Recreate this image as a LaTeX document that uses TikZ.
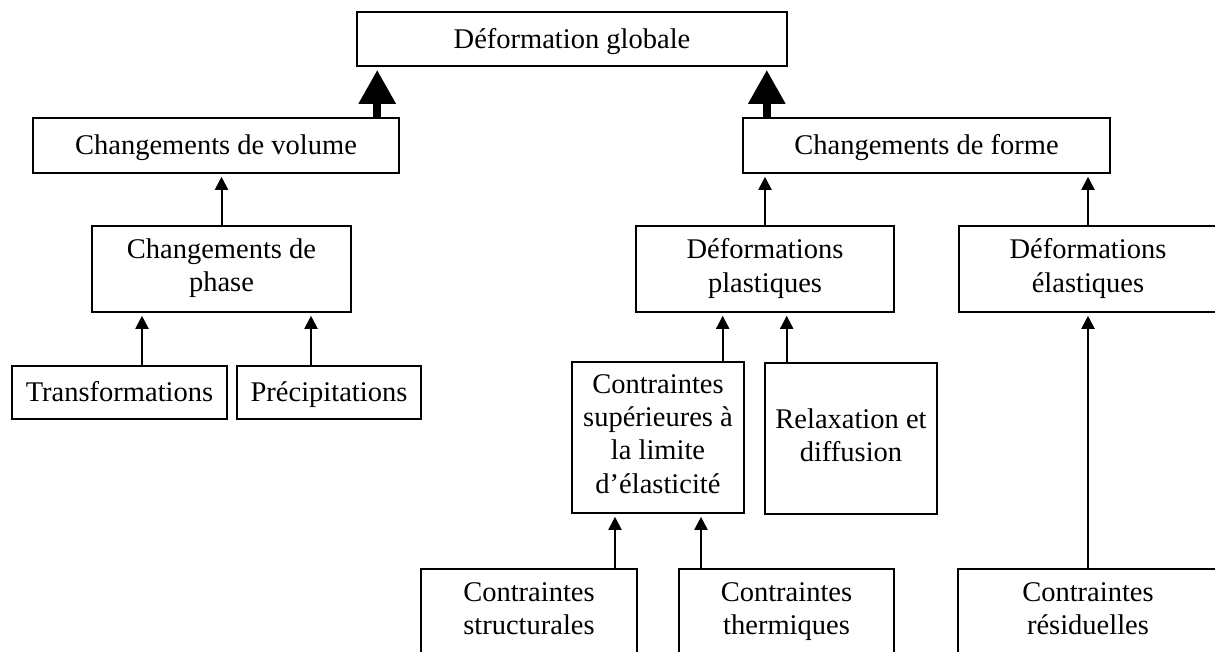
\documentclass[tikz,border=0pt]{standalone}
\usepackage{fontspec}
\setmainfont{Liberation Serif}
\usetikzlibrary{arrows.meta}
\newcommand\boxstrut{\rule[-7.3pt]{0pt}{33.3pt}}

\begin{document}
\begin{tikzpicture}[x=1pt,y=-1pt,->,>={Triangle[length=13pt,width=13pt]},
                    shorten >=3pt,line width=2pt,
                    font=\fontsize{28.5}{33.3}\selectfont]
  \tikzstyle{box}=[draw,rectangle,inner sep=0pt,align=center,line width=1.6pt,
                   execute at begin node=\boxstrut,execute at end node=\boxstrut]
  \tikzstyle{big}=[line width=8.5pt,-{Triangle[length=34pt,width=35pt]}]

  \useasboundingbox (0,0) rectangle (1215,652);
  \clip (0,0) rectangle (1215,652);

  \node[box,minimum width=430pt,minimum height=54pt] (glob) at (572,39) {Déformation globale};
  \node[box,minimum width=366pt,minimum height=55pt] (vol) at (216,145.5) {Changements de volume};
  \node[box,minimum width=367pt,minimum height=55pt] (forme) at (926.5,145.5) {Changements de forme};
  \node[box,minimum width=259pt,minimum height=86pt] (phase) at (221.5,269) {Changements de\\phase};
  \node[box,minimum width=258pt,minimum height=86pt] (plast) at (765,269) {Déformations\\plastiques};
  \node[box,minimum width=258pt,minimum height=86pt] (elast) at (1088,269) {Déformations\\élastiques};
  \node[box,minimum width=215pt,minimum height=53pt] (trans) at (119.5,392.5) {Transformations};
  \node[box,minimum width=184pt,minimum height=53pt] (prec) at (329,392.5) {Précipitations};
  \node[box,minimum width=172pt,minimum height=151pt] (sup) at (658,437.5) {Contraintes\\supérieures à\\la limite\\d’élasticité};
  \node[box,minimum width=172pt,minimum height=151pt] (relax) at (851,438.5) {Relaxation et\\diffusion};
  \node[box,minimum width=216pt,minimum height=86pt] (struct) at (529,612) {Contraintes\\structurales};
  \node[box,minimum width=215pt,minimum height=86pt] (therm) at (786.5,612) {Contraintes\\thermiques};
  \node[box,minimum width=260pt,minimum height=86pt] (resid) at (1088,612) {Contraintes\\résiduelles};

  \draw[big] ([xshift=21pt]glob.south west |- vol.north) -- ([xshift=21pt]glob.south west);
  \draw[big] ([xshift=-21pt]glob.south east |- forme.north) -- ([xshift=-21pt]glob.south east);

  \path (phase.north) edge (phase.north |- vol.south)
        ([xshift=-79.5pt]phase.south |- trans.north) edge ([xshift=-79.5pt]phase.south)
        ([xshift=89.5pt]phase.south |- prec.north) edge ([xshift=89.5pt]phase.south)
        (plast.north) edge (plast.north |- forme.south)
        (elast.north) edge (elast.north |- forme.south)
        ([xshift=-42.3pt]plast.south |- sup.north) edge ([xshift=-42.3pt]plast.south)
        ([xshift=21.7pt]plast.south |- relax.north) edge ([xshift=21.7pt]plast.south)
        ([xshift=-43pt]sup.south |- struct.north) edge ([xshift=-43pt]sup.south)
        ([xshift=43pt]sup.south |- therm.north) edge ([xshift=43pt]sup.south)
        (resid.north) edge (resid.north |- elast.south);

\end{tikzpicture}
\end{document}
